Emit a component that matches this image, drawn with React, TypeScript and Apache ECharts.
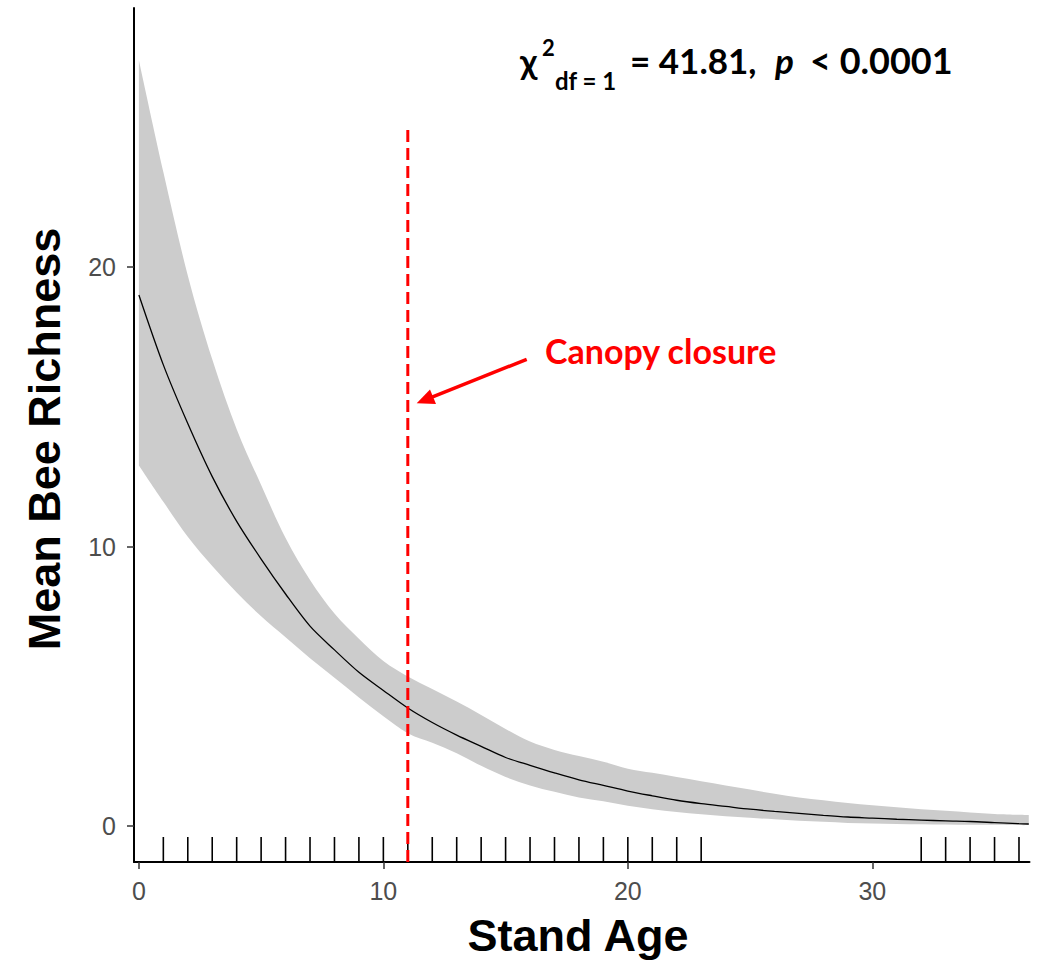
import React, { useEffect, useRef } from "react";
import * as echarts from "echarts";

// ---- Data ----
const ages = [0, 1, 2, 3, 4, 5, 6, 7, 8, 9, 10, 11, 12, 13, 14, 15, 16, 17, 18, 19, 20, 21, 22, 23, 24, 25, 26, 27, 28, 29, 30, 31, 32, 33, 34, 35, 36, 36.4];
const meanRichness = [19.0, 16.5, 14.4, 12.5, 10.9, 9.55, 8.3, 7.15, 6.3, 5.5, 4.85, 4.22, 3.7, 3.25, 2.85, 2.45, 2.17, 1.9, 1.65, 1.45, 1.25, 1.08, 0.92, 0.8, 0.7, 0.6, 0.52, 0.45, 0.38, 0.32, 0.28, 0.24, 0.21, 0.18, 0.16, 0.12, 0.08, 0.07];
const upperCI = [27.4, 23.4, 19.7, 16.7, 14.2, 12.2, 10.3, 8.8, 7.6, 6.7, 5.9, 5.35, 4.9, 4.45, 3.97, 3.47, 3.02, 2.72, 2.5, 2.3, 2.05, 1.9, 1.75, 1.6, 1.45, 1.3, 1.15, 1.02, 0.92, 0.82, 0.74, 0.67, 0.6, 0.54, 0.48, 0.43, 0.4, 0.39];
const lowerCI = [12.9, 11.6, 10.35, 9.3, 8.35, 7.5, 6.75, 6.0, 5.3, 4.6, 3.93, 3.32, 2.98, 2.6, 2.15, 1.75, 1.45, 1.22, 1.02, 0.88, 0.72, 0.6, 0.5, 0.42, 0.35, 0.29, 0.24, 0.19, 0.15, 0.11, 0.09, 0.07, 0.06, 0.05, 0.04, 0.04, 0.03, 0.03];
const rugAges = [1, 2, 3, 4, 5, 6, 7, 8, 9, 10, 11, 12, 13, 14, 15, 16, 17, 18, 19, 20, 21, 22, 23, 32, 33, 34, 35, 36];
const canopyClosureAge = [11];
const canopyLineTop = [25];
const xTicks = [0, 10, 20, 30];
const yTicks = [0, 10, 20];

const X_MIN = -0.2;
const X_MAX = 36.43;
const Y_MIN = -1.29;
const Y_MAX = 29.27;

const calibriLike = 'Lato, "Open Sans", "Noto Sans", sans-serif';
const arial = '"Liberation Sans", Arial, sans-serif';

// Smooth (Catmull-Rom -> cubic Bezier) path segments through pixel points
function smoothSegments(pts: number[][]): string {
  let d = "";
  const n = pts.length;
  for (let i = 0; i < n - 1; i++) {
    const p0 = pts[i - 1] || pts[i];
    const p1 = pts[i];
    const p2 = pts[i + 1];
    const p3 = pts[i + 2] || pts[i + 1];
    const c1x = p1[0] + (p2[0] - p0[0]) / 6;
    const c1y = p1[1] + (p2[1] - p0[1]) / 6;
    const c2x = p2[0] - (p3[0] - p1[0]) / 6;
    const c2y = p2[1] - (p3[1] - p1[1]) / 6;
    d += ` C${c1x},${c1y} ${c2x},${c2y} ${p2[0]},${p2[1]}`;
  }
  return d;
}

export default function App() {
  const ref = useRef<HTMLDivElement>(null);

  useEffect(() => {
    if (!ref.current) return;
    const chart = echarts.init(ref.current, null, { renderer: "svg" });

    const meanData = ages.map((a, i) => [a, meanRichness[i]]);
    const rugData = rugAges.map((a) => [a, Y_MIN]);
    const canopyData = [
      [canopyClosureAge[0], Y_MIN],
      [canopyClosureAge[0], canopyLineTop[0]],
    ];

    const option: any = {
      animation: false,
      backgroundColor: "#ffffff",
      grid: { left: 134, right: 13.5, top: 8, bottom: 99, containLabel: false },
      xAxis: {
        type: "value",
        min: X_MIN,
        max: X_MAX,
        axisLine: { show: true, onZero: false, lineStyle: { color: "#000", width: 2 } },
        axisTick: { show: true, customValues: xTicks, length: 7, lineStyle: { color: "#333", width: 1.5 } },
        axisLabel: { customValues: xTicks, color: "#4d4d4d", fontSize: 25, fontFamily: arial, margin: 16 },
        splitLine: { show: false },
      },
      yAxis: {
        type: "value",
        min: Y_MIN,
        max: Y_MAX,
        axisLine: { show: true, onZero: false, lineStyle: { color: "#000", width: 2 } },
        axisTick: { show: true, customValues: yTicks, length: 7, lineStyle: { color: "#333", width: 1.5 } },
        axisLabel: { customValues: yTicks, color: "#4d4d4d", fontSize: 25, fontFamily: arial, margin: 18 },
        splitLine: { show: false },
      },
      series: [
        {
          type: "custom",
          name: "band",
          silent: true,
          z: 1,
          data: [[0, 0]],
          renderItem: (_params: any, api: any) => {
            const up = ages.map((a, i) => api.coord([a, upperCI[i]]));
            const lo = ages.map((a, i) => api.coord([a, lowerCI[i]])).reverse();
            let d = `M${up[0][0]},${up[0][1]}` + smoothSegments(up);
            d += ` L${lo[0][0]},${lo[0][1]}` + smoothSegments(lo) + " Z";
            return { type: "path", shape: { pathData: d }, style: { fill: "#cccccc", stroke: null } };
          },
        },
        {
          type: "line",
          name: "mean",
          data: meanData,
          showSymbol: false,
          smooth: 0.3,
          z: 3,
          lineStyle: { color: "#000", width: 1.3 },
          silent: true,
        },
        {
          type: "custom",
          name: "rug",
          silent: true,
          z: 2,
          data: rugData,
          renderItem: (_params: any, api: any) => {
            const p = api.coord([api.value(0), Y_MIN]);
            return {
              type: "line",
              shape: { x1: p[0], y1: p[1], x2: p[0], y2: p[1] - 25 },
              style: { stroke: "#000", lineWidth: 1.6 },
            };
          },
        },
        {
          type: "line",
          name: "canopy",
          data: canopyData,
          showSymbol: false,
          z: 5,
          silent: true,
          lineStyle: { color: "#ff0000", width: 3, type: [12, 6] },
        },
      ],
      graphic: [
        {
          type: "text",
          x: 44,
          y: 439,
          rotation: Math.PI / 2,
          style: { text: "Mean Bee Richness", font: "bold 45px " + arial, fill: "#000", align: "center", verticalAlign: "middle" },
        },
        {
          type: "text",
          x: 578,
          y: 935,
          style: { text: "Stand Age", font: "bold 45px " + arial, fill: "#000", align: "center", verticalAlign: "middle" },
        },
        {
          type: "text",
          x: 545,
          y: 350,
          style: { text: "Canopy closure", font: "bold 34px " + calibriLike, fill: "#ff0000", align: "left", verticalAlign: "middle" },
        },
        {
          type: "line",
          shape: { x1: 526.7, y1: 359.3, x2: 432, y2: 397.2 },
          style: { stroke: "#ff0000", lineWidth: 3.5 },
        },
        {
          type: "polygon",
          shape: { points: [[416.7, 403.3], [436.0, 404.0], [430.0, 389.5]] },
          style: { fill: "#ff0000" },
        },
        // statistics annotation
        {
          type: "text",
          x: 520,
          y: 60,
          style: { text: "χ", font: "bold 35px " + calibriLike, fill: "#000", align: "left", verticalAlign: "middle" },
        },
        {
          type: "text",
          x: 542,
          y: 47,
          style: { text: "2", font: "bold 22px " + calibriLike, fill: "#000", align: "left", verticalAlign: "middle" },
        },
        {
          type: "text",
          x: 555,
          y: 80,
          style: { text: "df = 1", font: "bold 24px " + calibriLike, fill: "#000", align: "left", verticalAlign: "middle" },
        },
        {
          type: "text",
          x: 630,
          y: 60,
          style: { text: "= 41.81,", font: "bold 35px " + calibriLike, fill: "#000", align: "left", verticalAlign: "middle" },
        },
        {
          type: "text",
          x: 775,
          y: 60,
          style: { text: "p", font: "italic bold 35px " + calibriLike, fill: "#000", align: "left", verticalAlign: "middle" },
        },
        {
          type: "text",
          x: 810,
          y: 60,
          style: { text: "< 0.0001", font: "bold 36px " + calibriLike, fill: "#000", align: "left", verticalAlign: "middle" },
        },
      ],
    };

    chart.setOption(option);
    return () => chart.dispose();
  }, []);

  return (
    <div
      ref={ref}
      style={{ position: "absolute", left: 0, top: 0, width: 1043, height: 961, background: "#fff" }}
    />
  );
}
